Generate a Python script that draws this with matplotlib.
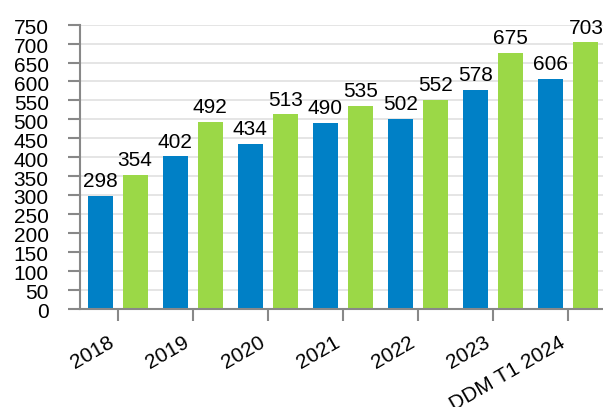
import numpy as np
import matplotlib.pyplot as plt
import matplotlib.transforms as mtransforms

plt.rcParams['font.family'] = ['Liberation Sans', 'DejaVu Sans']

# Data
categories = ['2018', '2019', '2020', '2021', '2022', '2023', 'DDM T1 2024']
blue_vals = [298, 402, 434, 490, 502, 578, 606]
green_vals = [354, 492, 513, 535, 552, 675, 703]

fig = plt.figure(figsize=(6.03, 4.07), dpi=100)
ax = fig.add_axes([80 / 603, 1 - 308.5 / 407, 523 / 603, 283.8 / 407])

x = np.arange(len(categories))
w = 0.333
off = 0.233
b1 = ax.bar(x - off, blue_vals, w, color='#0080c6', zorder=3)
b2 = ax.bar(x + off, green_vals, w, color='#9bd847', zorder=3)

# value labels above the bars
for bars, vals in [(b1, blue_vals), (b2, green_vals)]:
    for rect, v in zip(bars, vals):
        ax.annotate(str(v), (rect.get_x() + rect.get_width() / 2, v),
                    xytext=(0, 3.5), textcoords='offset points',
                    ha='center', va='bottom', fontsize=15, color='black')

ax.set_ylim(0, 750)
ax.set_yticks(range(0, 751, 50))
ax.set_xlim(-0.5, 6.46)
ax.set_xticks(x)
ax.set_xticklabels(categories, rotation=30, ha='right', va='bottom',
                   rotation_mode='anchor')

ax.tick_params(axis='both', labelsize=15, colors='#888888', labelcolor='black',
               width=1.5, length=8.5)
ax.tick_params(axis='y', pad=14)
ax.tick_params(axis='x', pad=21)

# y labels sit a touch below their ticks in the original
shift = mtransforms.ScaledTranslation(0, -2 / 100, fig.dpi_scale_trans)
for lbl in ax.get_yticklabels():
    lbl.set_transform(lbl.get_transform() + shift)

ax.grid(axis='y', color='#e0e0e0', linewidth=1.2, zorder=0)
for s in ['top', 'right']:
    ax.spines[s].set_visible(False)
for s in ['left', 'bottom']:
    ax.spines[s].set_color('#888888')
    ax.spines[s].set_linewidth(1.5)
    ax.spines[s].set_zorder(4)

fig.savefig('out.png', dpi=100)
